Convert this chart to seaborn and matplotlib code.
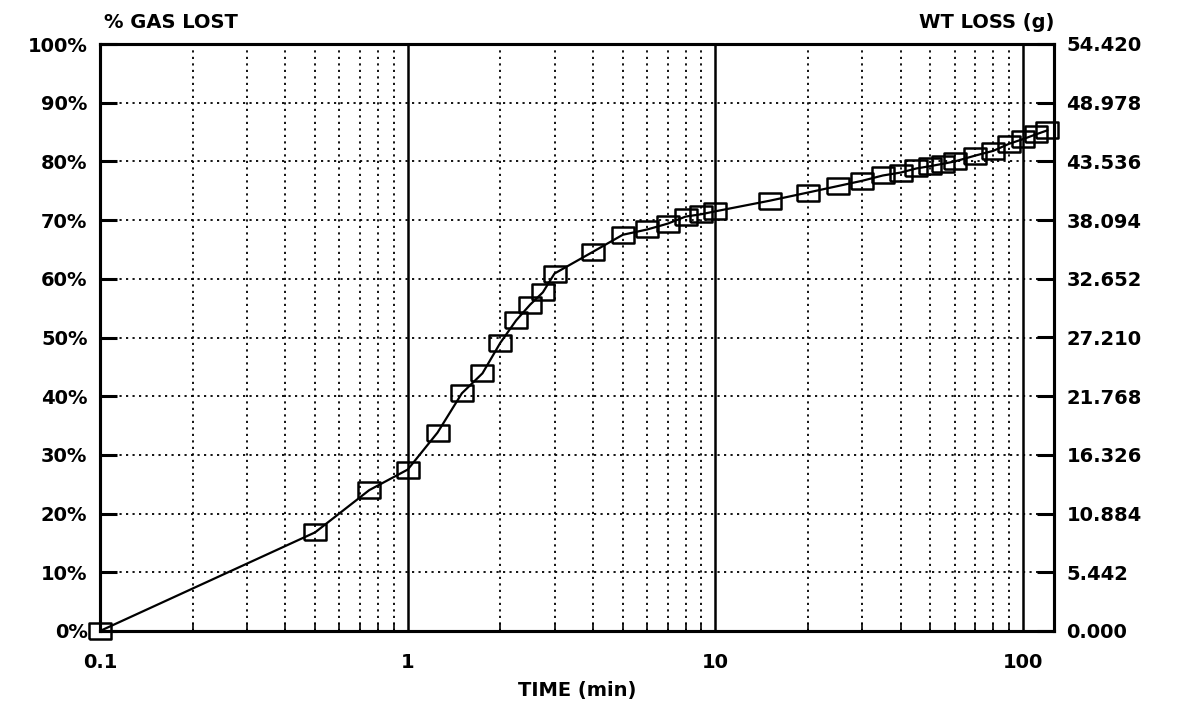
import numpy as np
import pandas as pd
import matplotlib
matplotlib.use("Agg")
import matplotlib.pyplot as plt
import seaborn as sns
from matplotlib.ticker import FixedLocator, NullFormatter, FuncFormatter

# ---- data ----
time_min = [0.1, 0.5, 0.75, 1.0, 1.25, 1.5, 1.75, 2.0, 2.25, 2.5, 2.75, 3.0,
            4.0, 5.0, 6.0, 7.0, 8.0, 9.0, 10.0, 15.0, 20.0, 25.0, 30.0, 35.0,
            40.0, 45.0, 50.0, 55.0, 60.0, 70.0, 80.0, 90.0, 100.0, 110.0, 120.0]
gas_lost_pct = [0.0, 16.8, 24.0, 27.5, 33.8, 40.5, 43.9, 49.1, 52.9, 55.6, 57.7, 60.9,
                64.6, 67.5, 68.4, 69.4, 70.6, 71.0, 71.5, 73.3, 74.7, 75.8, 76.7, 77.6,
                78.1, 78.8, 79.2, 79.6, 80.0, 81.0, 81.8, 83.0, 83.8, 84.6, 85.3]
max_wt_loss = 54.420
left_ticks = list(range(0, 101, 10))
x_major = [0.1, 1, 10, 100]
x_labels = ["0.1", "1", "10", "100"]

df = pd.DataFrame({"time": time_min, "gas": gas_lost_pct})

sns.set_style("white")
plt.rcParams['font.family'] = ['DejaVu Sans']
plt.rcParams['font.weight'] = 'bold'
plt.rcParams['text.color'] = 'black'
plt.rcParams['axes.labelcolor'] = 'black'
plt.rcParams['xtick.color'] = 'black'
plt.rcParams['ytick.color'] = 'black'
plt.rcParams['axes.edgecolor'] = 'black'

FS = 14

fig = plt.figure(figsize=(11.84, 7.05), dpi=100)
ax = fig.add_axes([100/1184, 1 - 631/705, (1054 - 100)/1184, (631 - 44)/705])

sq = [(-1.4, -1), (1.4, -1), (1.4, 1), (-1.4, 1), (-1.4, -1)]
sns.lineplot(data=df, x="time", y="gas", ax=ax, color="black", linewidth=1.6,
             marker=sq, markersize=15.5, markerfacecolor="none",
             markeredgecolor="black", markeredgewidth=1.8, estimator=None,
             sort=False, clip_on=False, zorder=5)

ax.set_xscale("log")
ax.set_xlim(0.1, 126)
ax.set_ylim(0, 100)

# grid
dotted = (0, (1.2, 2.4))
minor_x = [m * 10.0**e for e in (-1, 0, 1, 2) for m in range(2, 10) if m * 10.0**e < 126]
for xv in minor_x:
    ax.axvline(xv, color="black", lw=1.3, ls=dotted, zorder=1)
for xv in [1, 10, 100]:
    ax.axvline(xv, color="black", lw=1.8, zorder=1)
for yv in left_ticks[1:-1]:
    ax.axhline(yv, color="black", lw=1.3, ls=dotted, zorder=1)

ax.xaxis.set_major_locator(FixedLocator(x_major))
ax.xaxis.set_major_formatter(FuncFormatter(lambda v, p: x_labels[x_major.index(v)] if v in x_major else ""))
ax.xaxis.set_minor_locator(FixedLocator(minor_x))
ax.xaxis.set_minor_formatter(NullFormatter())
ax.tick_params(axis="x", which="major", direction="in", length=0, pad=16, labelsize=FS)
ax.tick_params(axis="x", which="minor", direction="in", length=6, width=1.2, bottom=True)

ax.set_yticks(left_ticks)
ax.set_yticklabels([f"{v}%" for v in left_ticks])
ax.tick_params(axis="y", direction="in", length=12, width=2.2, pad=9, labelsize=FS, left=True)

for s in ax.spines.values():
    s.set_linewidth(2.2)
    s.set_color("black")

ax.set_xlabel("TIME (min)", fontsize=FS, fontweight="bold", labelpad=6)
ax.set_ylabel("")

ax2 = ax.twinx()
ax2.set_ylim(0, max_wt_loss)
rticks = [max_wt_loss * v / 100 for v in left_ticks]
ax2.set_yticks(rticks)
ax2.set_yticklabels([f"{v:.3f}" for v in rticks])
ax2.tick_params(axis="y", direction="in", length=12, width=2.2, pad=9, labelsize=FS, right=True)
for s in ax2.spines.values():
    s.set_linewidth(2.2)
    s.set_color("black")

fig.text(104/1184, 1 - 22/705, "% GAS LOST", fontsize=FS, fontweight="bold", ha="left", va="center")
fig.text(1054/1184, 1 - 22/705, "WT LOSS (g)", fontsize=FS, fontweight="bold", ha="right", va="center")

fig.savefig("out.png", dpi=100)
